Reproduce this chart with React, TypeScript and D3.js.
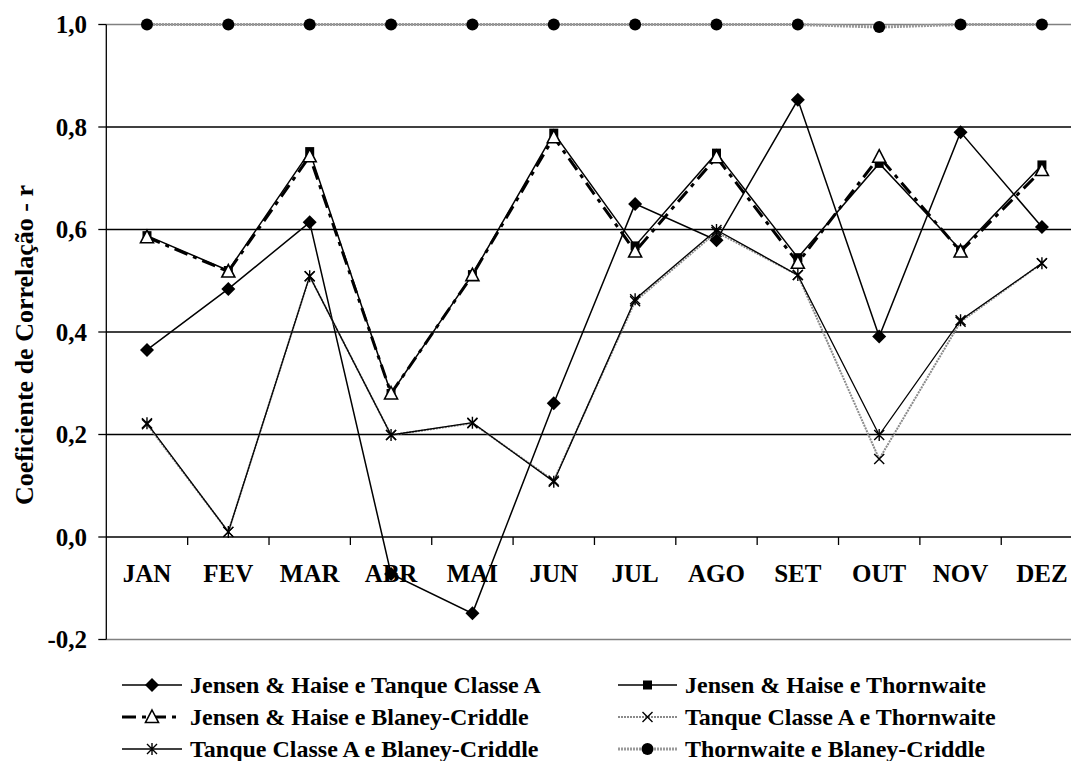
import React from "react";
import * as d3 from "d3";

const months = ["JAN", "FEV", "MAR", "ABR", "MAI", "JUN", "JUL", "AGO", "SET", "OUT", "NOV", "DEZ"];
const yTicks = [-0.2, 0, 0.2, 0.4, 0.6, 0.8, 1.0];

const jhTanque = [0.365, 0.484, 0.614, -0.072, -0.149, 0.261, 0.65, 0.579, 0.853, 0.391, 0.79, 0.605];
const jhThorn = [0.588, 0.52, 0.752, 0.28, 0.512, 0.788, 0.568, 0.749, 0.545, 0.729, 0.56, 0.726];
const jhBlaney = [0.585, 0.518, 0.743, 0.28, 0.511, 0.78, 0.557, 0.741, 0.535, 0.742, 0.557, 0.716];
const tanqueThorn = [0.22, 0.01, 0.509, 0.199, 0.222, 0.11, 0.46, 0.595, 0.511, 0.152, 0.42, 0.534];
const tanqueBlaney = [0.222, 0.01, 0.509, 0.199, 0.223, 0.108, 0.464, 0.599, 0.511, 0.199, 0.423, 0.534];
const thornBlaney = [1.0, 1.0, 1.0, 1.0, 1.0, 1.0, 1.0, 1.0, 1.0, 0.995, 1.0, 1.0];

const seriesNames = [
  "Jensen & Haise e Tanque Classe A",
  "Jensen & Haise e Thornwaite",
  "Jensen & Haise e Blaney-Criddle",
  "Tanque Classe A e Thornwaite",
  "Tanque Classe A e Blaney-Criddle",
  "Thornwaite e Blaney-Criddle",
];

const FONT = "'Liberation Serif', 'Times New Roman', serif";

type Style = { stroke: string; width: number; dash?: string; marker: string };
const styles: Style[] = [
  { stroke: "#000", width: 1.5, marker: "diamond" },
  { stroke: "#000", width: 1.5, marker: "square" },
  { stroke: "#000", width: 3, dash: "14,6,4,6", marker: "triangle" },
  { stroke: "#8a8a8a", width: 2, dash: "2,1", marker: "x" },
  { stroke: "#000", width: 1.3, marker: "star" },
  { stroke: "#9a9a9a", width: 3, dash: "2,1", marker: "circle" },
];

function Marker({ kind, x, y }: { kind: string; x: number; y: number }) {
  switch (kind) {
    case "diamond":
      return <path d={`M${x},${y - 7}L${x + 7},${y}L${x},${y + 7}L${x - 7},${y}Z`} fill="#000" />;
    case "square":
      return <rect x={x - 4.5} y={y - 4.5} width={9} height={9} fill="#000" />;
    case "triangle":
      return <path d={`M${x},${y - 7}L${x + 6.5},${y + 5.5}L${x - 6.5},${y + 5.5}Z`} fill="#fff" stroke="#000" strokeWidth={1.6} />;
    case "x":
      return <path d={`M${x - 5},${y - 5}L${x + 5},${y + 5}M${x - 5},${y + 5}L${x + 5},${y - 5}`} stroke="#000" strokeWidth={1.4} />;
    case "star":
      return (
        <path
          d={`M${x - 5},${y - 5}L${x + 5},${y + 5}M${x - 5},${y + 5}L${x + 5},${y - 5}M${x},${y - 6}L${x},${y + 6}`}
          stroke="#000"
          strokeWidth={1.4}
        />
      );
    case "circle":
      return <circle cx={x} cy={y} r={6} fill="#000" />;
    default:
      return null;
  }
}

export default function App() {
  const W = 1071;
  const H = 761;
  const left = 106.3;
  const right = 1082.6;
  const x = d3.scaleBand<string>().domain(months).range([left, right]).padding(0);
  const y = d3.scaleLinear().domain([-0.2, 1.0]).range([639.5, 24.5]);
  const cx = (m: string) => (x(m) as number) + x.bandwidth() / 2;
  const data = [jhTanque, jhThorn, jhBlaney, tanqueThorn, tanqueBlaney, thornBlaney];
  const line = d3
    .line<number>()
    .x((_, i) => cx(months[i]))
    .y((d) => y(d));
  const fmt = (v: number) => v.toFixed(1).replace(".", ",");

  const legendRows = [685, 717, 749];
  const legendCols = [
    { x1: 122, x2: 182, text: 190 },
    { x1: 618, x2: 677, text: 685 },
  ];

  return (
    <svg width={W} height={H} style={{ position: "absolute", left: 0, top: 0, background: "#fff" }} fontFamily={FONT}>
      <rect x={0} y={0} width={W} height={H} fill="#fff" />
      {yTicks.map((t) => (
        <line
          key={t}
          x1={left}
          x2={right}
          y1={y(t)}
          y2={y(t)}
          stroke={t === 1.0 || t === -0.2 ? "#808080" : "#000"}
          strokeWidth={1.3}
        />
      ))}
      <line x1={left} x2={left} y1={y(1.0)} y2={y(-0.2)} stroke="#000" strokeWidth={1.3} />
      {yTicks.map((t) => (
        <g key={"yt" + t}>
          <line x1={left - 8} x2={left} y1={y(t)} y2={y(t)} stroke="#000" strokeWidth={1.3} />
          <text x={87} y={y(t)} dy="0.35em" textAnchor="end" fontSize={25} fontWeight="bold">
            {fmt(t)}
          </text>
        </g>
      ))}
      {months.map((m) => (
        <line
          key={"xt" + m}
          x1={(x(m) as number) + x.bandwidth()}
          x2={(x(m) as number) + x.bandwidth()}
          y1={y(0)}
          y2={y(0) + 8}
          stroke="#000"
          strokeWidth={1.3}
        />
      ))}
      {months.map((m) => (
        <text key={"xl" + m} x={cx(m)} y={582} textAnchor="middle" fontSize={25} fontWeight="bold">
          {m}
        </text>
      ))}
      <text transform={`translate(33,345) rotate(-90)`} textAnchor="middle" fontSize={26} fontWeight="bold">
        Coeficiente de Correlação - r
      </text>
      {data.map((d, si) => (
        <g key={"s" + si}>
          <path
            d={line(d) as string}
            fill="none"
            stroke={styles[si].stroke}
            strokeWidth={styles[si].width}
            strokeDasharray={styles[si].dash}
          />
          {d.map((v, i) => (
            <Marker key={i} kind={styles[si].marker} x={cx(months[i])} y={y(v)} />
          ))}
        </g>
      ))}
      {seriesNames.map((name, i) => {
        const row = Math.floor(i / 2);
        const col = legendCols[i % 2];
        const ly = legendRows[row];
        const st = styles[i];
        return (
          <g key={"lg" + i}>
            <line x1={col.x1} x2={col.x2} y1={ly} y2={ly} stroke={st.stroke} strokeWidth={st.width} strokeDasharray={st.dash} />
            <Marker kind={st.marker} x={(col.x1 + col.x2) / 2} y={ly} />
            <text x={col.text} y={ly} dy="0.35em" fontSize={24} fontWeight="bold">
              {name}
            </text>
          </g>
        );
      })}
    </svg>
  );
}
